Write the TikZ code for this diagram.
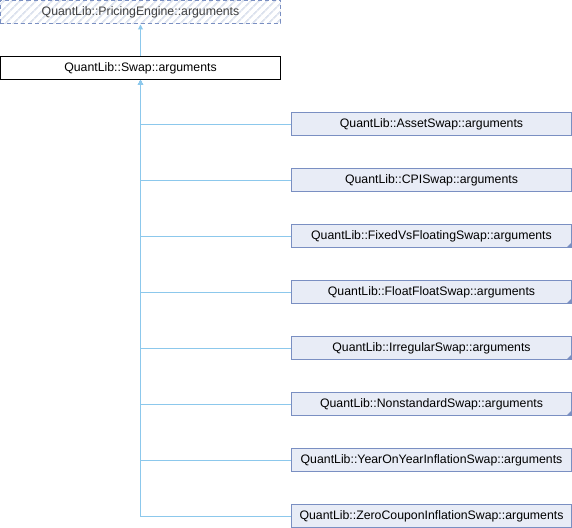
\documentclass[tikz,border=0pt]{standalone}
\usepackage{fontspec}
\setmainfont{Liberation Sans}
\usetikzlibrary{arrows.meta,patterns.meta}
\definecolor{edgec}{HTML}{8CC8EC}
\definecolor{boxborder}{HTML}{7A8FC2}
\definecolor{boxfill}{HTML}{E8ECF6}
\definecolor{hatch}{HTML}{DCE2EE}
\begin{document}
\begin{tikzpicture}[x=1bp,y=-1bp,
  every node/.style={font=\fontsize{12.3bp}{14bp}\selectfont, inner sep=0pt},
  cls/.style={draw=boxborder, fill=boxfill, line width=1bp, minimum width=280bp, minimum height=23bp, text=black},
  cur/.style={draw=black, fill=white, line width=1bp, minimum width=280bp, minimum height=23bp},
  ext/.style={draw=boxborder, dashed, dash pattern=on 4bp off 3bp, line width=1bp, minimum width=280bp, minimum height=23bp,
     pattern={Lines[angle=45,distance=6bp,line width=2bp]}, pattern color=hatch, text=black!75},
  edge/.style={draw=edgec, line width=1bp, -{Triangle[length=5bp,width=5bp,fill=edgec]}},
  corner/.style={fill=boxborder}
]
\useasboundingbox (0,0) rectangle (572,528);
\node[fill=white, minimum width=280bp, minimum height=23bp] at (140.5,12) {};
\node[ext] (pe) at (140.5,12) {QuantLib::PricingEngine::arguments};
\node[cur] (swap) at (140.5,68) {QuantLib::Swap::arguments};
\node[cls] (c1) at (431.5,124) {QuantLib::AssetSwap::arguments};
\node[cls] (c2) at (431.5,180) {QuantLib::CPISwap::arguments};
\node[cls] (c3) at (431.5,236) {QuantLib::FixedVsFloatingSwap::arguments};
\node[cls] (c4) at (431.5,292) {QuantLib::FloatFloatSwap::arguments};
\node[cls] (c5) at (431.5,348) {QuantLib::IrregularSwap::arguments};
\node[cls] (c6) at (431.5,404) {QuantLib::NonstandardSwap::arguments};
\node[cls] (c7) at (431.5,460) {QuantLib::YearOnYearInflationSwap::arguments};
\node[cls] (c8) at (431.5,516) {QuantLib::ZeroCouponInflationSwap::arguments};
\foreach \c in {c3,c4,c5,c6}{
  \fill[corner] ([shift={(-0.5,-0.5)}]\c.south east) -- ++(-5,0) -- ++(5,-5) -- cycle;
}
\draw[edge] (swap.north) -- (pe.south);
\foreach \c in {c1,c2,c3,c4,c5,c6,c7,c8}{
  \draw[edge] ([yshift=-0.5bp]\c.west) -| (swap.south);
}
\end{tikzpicture}
\end{document}
